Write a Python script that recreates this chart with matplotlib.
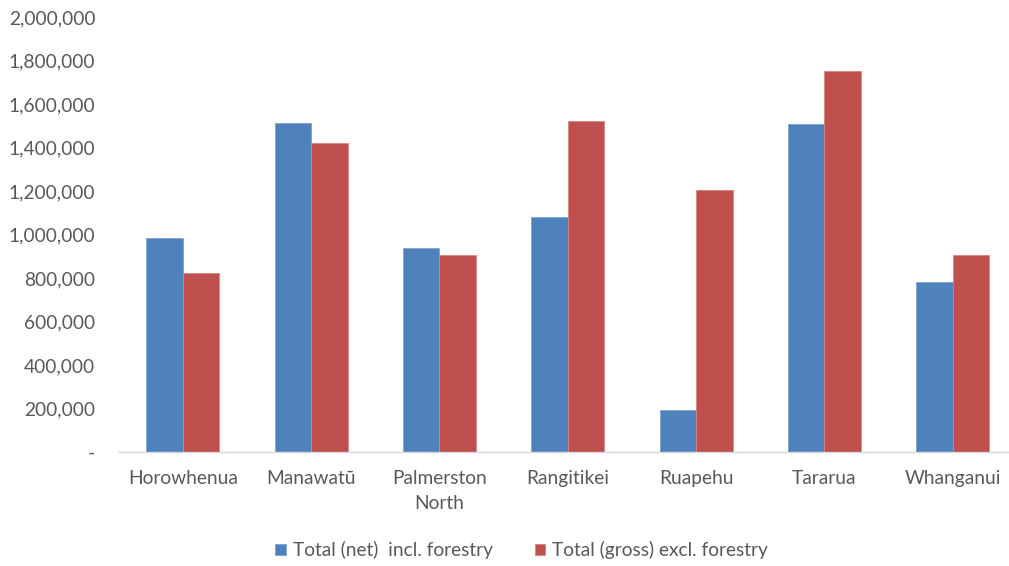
import matplotlib
matplotlib.use("Agg")
import matplotlib.pyplot as plt
import numpy as np
from matplotlib.ticker import FuncFormatter, MultipleLocator

districts = ["Horowhenua", "Manawatū", "Palmerston\nNorth", "Rangitikei",
             "Ruapehu", "Tararua", "Whanganui"]
net_incl_forestry = [982000, 1514000, 938000, 1079000, 193000, 1508000, 783000]
gross_excl_forestry = [822000, 1419000, 907000, 1522000, 1206000, 1753000, 907000]
series_labels = ["Total (net)  incl. forestry", "Total (gross) excl. forestry"]

plt.rcParams["font.family"] = ["Lato", "DejaVu Sans"]
text_grey = "#595959"
fs = 13.8

fig = plt.figure(figsize=(10.09, 5.66), dpi=100)
ax = fig.add_axes([0.1177, 0.2014, 0.890, 0.7686])

x = np.arange(len(districts))
w = 0.2845
ax.bar(x - w / 2, net_incl_forestry, width=w, color="#4F81BD",
       edgecolor="#7fa3d3", linewidth=0.6, label=series_labels[0])
ax.bar(x + w / 2, gross_excl_forestry, width=w, color="#C0504D",
       edgecolor="#d98582", linewidth=0.6, label=series_labels[1])

ax.set_xlim(-0.5, len(districts) - 0.5)
ax.set_ylim(0, 2000000)
ax.yaxis.set_major_locator(MultipleLocator(200000))
ax.yaxis.set_major_formatter(
    FuncFormatter(lambda v, p: "-" if v == 0 else f"{int(v):,}"))

for s in ["top", "right", "left"]:
    ax.spines[s].set_visible(False)
ax.spines["bottom"].set_color("#d9d9d9")
ax.spines["bottom"].set_linewidth(1.0)

ax.set_xticks(x)
ax.set_xticklabels(districts, linespacing=1.6)
ax.tick_params(axis="x", length=0, pad=13, labelsize=fs, colors=text_grey)
ax.tick_params(axis="y", length=0, pad=17, labelsize=fs, colors=text_grey)

leg = fig.legend(loc="center", bbox_to_anchor=(0.517, 0.028), ncol=2,
                 frameon=False, fontsize=fs, handlelength=0.55,
                 handleheight=0.55, handletextpad=0.35, columnspacing=2.2)
for t in leg.get_texts():
    t.set_color(text_grey)

fig.savefig("out.png", dpi=100)
